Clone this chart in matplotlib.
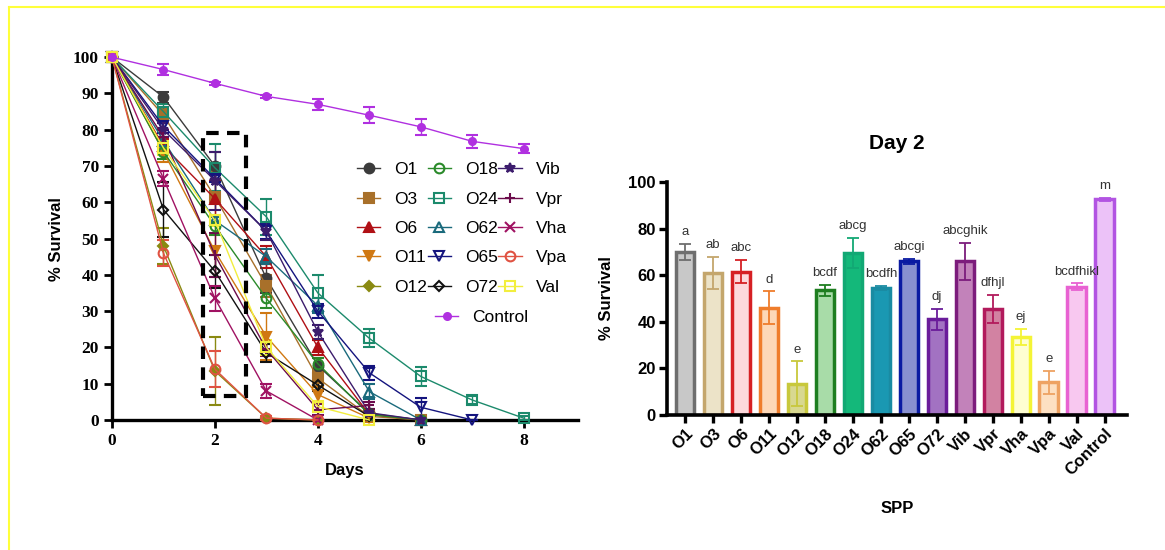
import matplotlib
matplotlib.use("Agg")
import matplotlib.pyplot as plt
from matplotlib.lines import Line2D
from matplotlib.patches import Rectangle

# ---- survival over time (left panel) ----
strains = ["O1", "O3", "O6", "O11", "O12", "O18", "O24", "O62", "O65", "O72",
           "Vib", "Vpr", "Vha", "Vpa", "Val", "Control"]

# % survival per day, starting at day 0
time_surv = [
    [100, 89, 70, 39, 15, 1.8, 0],            # O1
    [100, 84, 61.5, 37, 11.5, 1, 0],          # O3
    [100, 75.5, 61, 45, 20, 1.5, 0],          # O6
    [100, 74, 46.5, 23, 7, 0.5],              # O11
    [100, 48, 13.5, 0.5, 0],                  # O12
    [100, 74, 53.5, 33.5, 15.5, 1.5, 0],      # O18
    [100, 85, 69.5, 56, 35, 22.5, 12, 5.5, 0.5],  # O24
    [100, 77, 55, 45, 31.5, 7.8, 0],          # O62
    [100, 81, 66.5, 52, 30, 13, 3.5, 0],      # O65
    [100, 58, 41, 18.5, 9.6, 1],              # O72
    [100, 80, 66, 52, 24.3, 2, 0],            # Vib
    [100, 78, 45.5, 19.5, 2.8, 4],            # Vpr
    [100, 66.5, 33.5, 8, 0],                  # Vha
    [100, 46, 14, 0.5, 0],                    # Vpa
    [100, 75, 55, 20, 3.7, 0],                # Val
    [100, 96.6, 92.8, 89.2, 87, 84, 80.8, 76.8, 74.8],  # Control
]
time_err = [
    [0, 1.5, 4, 4, 2, 1, 0],
    [0, 2, 7, 3, 2, 1, 0],
    [0, 2, 5, 3, 2, 1, 0],
    [0, 3, 7, 6.5, 2, 1],
    [0, 5, 9.5, 0.5, 0],
    [0, 2, 2.5, 2.5, 1.5, 1, 0],
    [0, 2, 6.5, 5, 5, 2.5, 2.5, 1, 0.5],
    [0, 2, 1, 2, 2, 2, 0],
    [0, 2, 1, 2, 2, 2, 2.5, 0],
    [0, 7.5, 4.5, 2.5, 1.5, 1],
    [0, 2, 8, 2.5, 2, 1, 0],
    [0, 2, 6, 2, 1.5, 1],
    [0, 2, 3.5, 2, 0],
    [0, 3.5, 5, 0.5, 0],
    [0, 2, 1.5, 2, 1.5, 0],
    [0, 1.5, 0.5, 0.5, 1.5, 2.2, 2.3, 1.8, 1.2],
]

line_colors = ["#3b3b3b", "#a8702a", "#b01015", "#d07812", "#8a8a12", "#2a8a2a",
               "#1c8a6c", "#1a6a7c", "#14147e", "#111111", "#3c1c6c", "#6c0c4c",
               "#a01262", "#e05242", "#f2ee3e", "#b030e0"]
line_markers = ["o", "s", "^", "v", "D", "o", "s", "^", "v", "D",
                "*", "+", "x", "o", "s", "o"]
open_markers = {"O18", "O24", "O62", "O65", "O72", "Vpa", "Val"}

# ---- Day 2 bar chart (right panel) ----
day2_mean = [70, 61, 61.5, 46, 13.5, 53.5, 69.5, 54.5, 66, 41, 66, 45.5, 33.5, 14, 55, 92.5]
day2_err = [3.5, 7, 5, 7, 9.5, 2.5, 6.5, 1, 1, 4.5, 8, 6, 3.5, 5, 1.5, 0.6]
day2_letters = ["a", "ab", "abc", "d", "e", "bcdf", "abcg", "bcdfh", "abcgi", "dj",
                "abcghik", "dfhjl", "ej", "e", "bcdfhikl", "m"]
bar_edges = ["#6e6e6e", "#c4a66c", "#d62024", "#ef7d2c", "#c8c83c", "#1e7e20",
             "#12a874", "#1a8ba2", "#0a1aa2", "#6a1c9a", "#7c1c7c", "#b21a5c",
             "#f4f436", "#eea262", "#e862d2", "#b254e2"]
bar_fills = ["#c8c8c8", "#ece3c8", "#fdd9dc", "#fdd8b8", "#d8d890", "#a8dca8",
             "#14b87a", "#1a98b2", "#8890d0", "#a272c2", "#c282ba", "#d282a2",
             "#fefed2", "#fde0c2", "#f8c8f0", "#ecc2f8"]

fig = plt.figure(figsize=(11.65, 5.5), dpi=100)

# ================= left panel =================
ax1 = fig.add_axes([0.0961, 0.2364, 0.3999, 0.6596])
leg_handles = []
for i, name in enumerate(strains):
    vals = time_surv[i]
    days = list(range(len(vals)))
    col = line_colors[i]
    mk = line_markers[i]
    face = "none" if name in open_markers else col
    ms = 7
    if mk == "D":
        ms = 5
    if name == "Control":
        ms = 5
    ax1.errorbar(days, vals, yerr=time_err[i], color=col, lw=1.0, marker=mk,
                 ms=ms, mfc=face, mec=col, mew=1.5, capsize=4, elinewidth=1.0,
                 clip_on=False, zorder=3)
    leg_handles.append(Line2D([], [], color=col, lw=1.0, marker=mk, ms=ms,
                              mfc=face, mec=col, mew=1.5))

ax1.add_patch(Rectangle((1.77, 6.6), 0.83, 72.5, fill=False, ls=(0, (3, 2)),
                        lw=3, ec="black", zorder=5))

ax1.set_xlim(0, 9.05)
ax1.set_ylim(0, 100)
ax1.set_xticks([0, 2, 4, 6, 8])
ax1.set_yticks(range(0, 101, 10))
for s in ["top", "right"]:
    ax1.spines[s].set_visible(False)
for s in ["left", "bottom"]:
    ax1.spines[s].set_linewidth(2.4)
ax1.tick_params(width=2, length=6, labelsize=12.5)
for lab in ax1.get_xticklabels() + ax1.get_yticklabels():
    lab.set_fontfamily("Liberation Serif")
    lab.set_fontweight("bold")
ax1.set_xlabel("Days", fontsize=12, fontweight="bold", family="Liberation Sans", labelpad=10)
ax1.set_ylabel("% Survival", fontsize=12, fontweight="bold", family="Liberation Sans", labelpad=6)

# legend: three columns of five rows, Control on its own row below
leg_font = {"family": "Liberation Sans", "size": 12.5}
leg1 = ax1.legend(leg_handles[:15], strains[:15], ncol=3, frameon=False, loc="upper left",
                  bbox_to_anchor=(0.526, 0.711), prop=leg_font,
                  handlelength=1.35, handletextpad=0.8, columnspacing=0.02,
                  labelspacing=0.82, borderaxespad=0, borderpad=0)
ax1.add_artist(leg1)
ax1.legend(leg_handles[15:], strains[15:], frameon=False, loc="upper left",
           bbox_to_anchor=(0.693, 0.303), prop=leg_font,
           handlelength=1.35, handletextpad=0.8, borderaxespad=0, borderpad=0)

# ================= right panel =================
ax2 = fig.add_axes([0.5725, 0.2455, 0.3949, 0.4236])
xpos = list(range(len(strains)))
ax2.bar(xpos, day2_mean, width=0.66, color=bar_fills, edgecolor=bar_edges, linewidth=2.5, zorder=2)
for i in xpos:
    ax2.errorbar(i, day2_mean[i], yerr=day2_err[i], color=bar_edges[i], capsize=4,
                 elinewidth=1.3, capthick=1.3, zorder=3)
    ax2.text(i, day2_mean[i] + day2_err[i] + 2.5, day2_letters[i], ha="center", va="bottom",
             fontsize=9.5, color="#333333", family="Liberation Sans")

ax2.set_xlim(-0.65, 15.8)
ax2.set_ylim(0, 100)
ax2.set_yticks(range(0, 101, 20))
ax2.set_xticks(xpos)
ax2.set_xticklabels(strains, rotation=45, ha="right", rotation_mode="anchor",
                    fontsize=12, fontweight="bold", family="Liberation Sans")
for lab in ax2.get_yticklabels():
    lab.set_fontweight("bold")
    lab.set_fontfamily("Liberation Sans")
    lab.set_fontsize(12)
for s in ["top", "right"]:
    ax2.spines[s].set_visible(False)
for s in ["left", "bottom"]:
    ax2.spines[s].set_linewidth(2.6)
ax2.tick_params(width=2.4, length=6, pad=2)
ax2.set_title("Day 2", fontsize=15, fontweight="bold", family="Liberation Sans", pad=24)
ax2.set_xlabel("SPP", fontsize=12, fontweight="bold", family="Liberation Sans", labelpad=16)
ax2.set_ylabel("% Survival", fontsize=12, fontweight="bold", family="Liberation Sans", labelpad=10)

# thin yellow frame on top and left edge of the original image
fig.add_artist(Line2D([9 / 1165, 9 / 1165], [0, 1 - 7 / 550], color="#ffff3a", lw=1.5))
fig.add_artist(Line2D([9 / 1165, 1], [1 - 7 / 550, 1 - 7 / 550], color="#ffff3a", lw=1.5))

fig.savefig("out.png", dpi=100)
